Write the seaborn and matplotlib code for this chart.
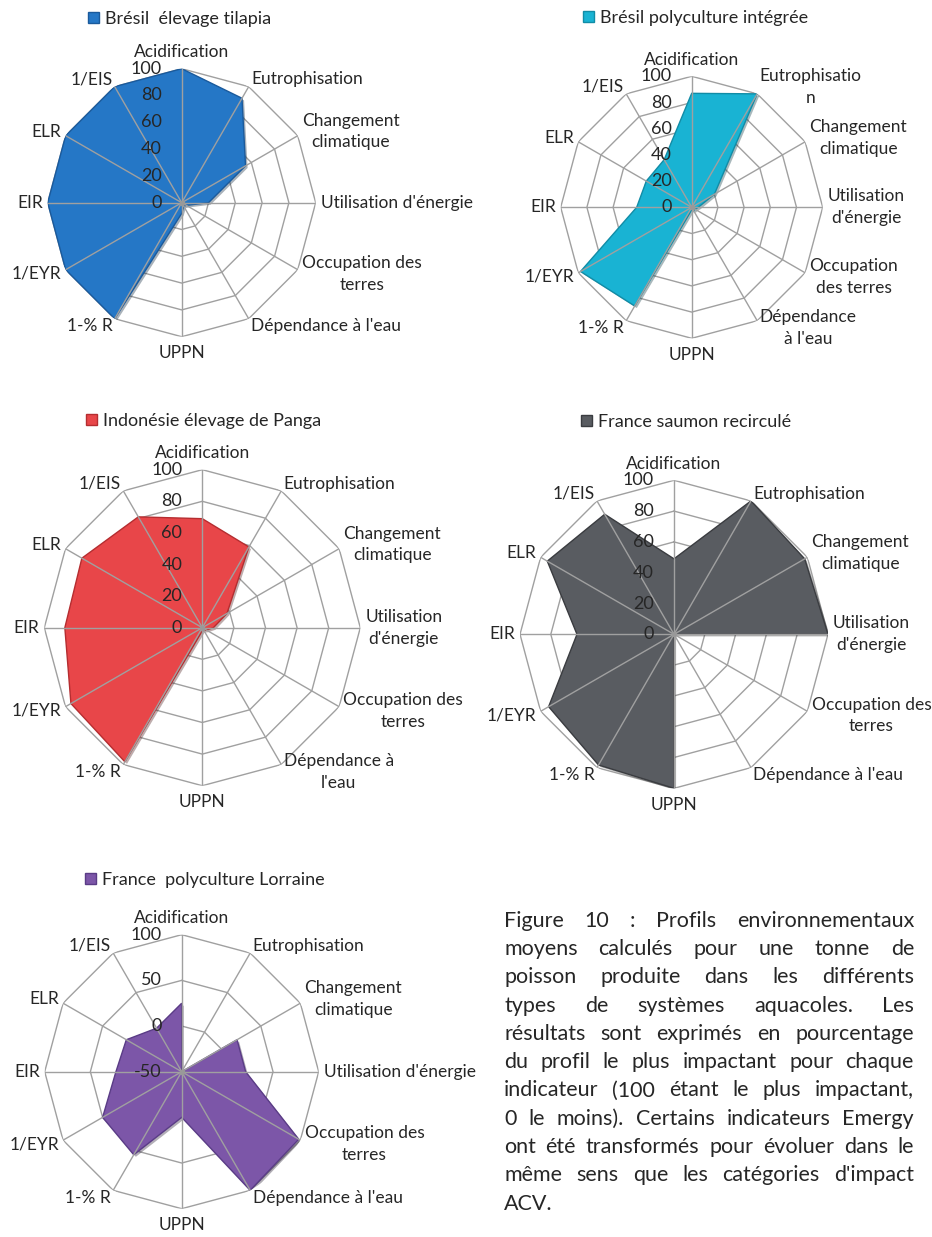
import numpy as np
import matplotlib
matplotlib.use('Agg')
import matplotlib.pyplot as plt
import matplotlib.patheffects as pe
import seaborn as sns
from matplotlib.patches import Patch
from matplotlib.transforms import offset_copy

sns.set_theme(style='white')
plt.rcParams['font.family'] = ['Lato', 'DejaVu Sans']

# ---------------------------------------------------------------
# donnees
# ---------------------------------------------------------------
indicateurs = ['Acidification', 'Eutrophisation', 'Changement climatique',
               "Utilisation d'énergie", 'Occupation des terres', "Dépendance à l'eau",
               'UPPN', '1-% R', '1/EYR', 'EIR', 'ELR', '1/EIS']

bresil_tilapia = [100, 90, 55, 20, 4, 3, 8, 100, 100, 100, 100, 100]
bresil_polyculture = [87, 100, 20, 5, 3, 3, 2, 87, 98, 42, 40, 42]
indonesie_panga = [69, 59, 18, 7, 3, 2, 2, 98, 96, 87, 88, 81]
france_saumon = [49, 100, 98, 100, 0, 0, 100, 98, 94, 63, 95, 90]
france_lorraine = [25, -50, 20, 20, 98, 100, 0, 55, 50, 22, 20, 5]

noms = ['Brésil  élevage tilapia', 'Brésil polyculture intégrée',
        'Indonésie élevage de Panga', 'France saumon recirculé',
        'France  polyculture Lorraine']

couleurs = ['#2577c6', '#19b3d3', '#e84649', '#595c61', '#7c56a8']
bords = ['#1a5a9c', '#118ca6', '#b52d30', '#3a3c40', '#5a3c86']

# libelles coupes comme dans Excel, un jeu par graphique
lib_1 = ['Acidification', 'Eutrophisation', 'Changement\nclimatique', "Utilisation d'énergie",
         'Occupation des\nterres', "Dépendance à l'eau", 'UPPN', '1-% R', '1/EYR', 'EIR', 'ELR', '1/EIS']
lib_2 = ['Acidification', 'Eutrophisatio\nn', 'Changement\nclimatique', "Utilisation\nd'énergie",
         'Occupation\ndes terres', "Dépendance\nà l'eau", 'UPPN', '1-% R', '1/EYR', 'EIR', 'ELR', '1/EIS']
lib_3 = ['Acidification', 'Eutrophisation', 'Changement\nclimatique', "Utilisation\nd'énergie",
         'Occupation des\nterres', "Dépendance à\nl'eau", 'UPPN', '1-% R', '1/EYR', 'EIR', 'ELR', '1/EIS']
lib_4 = ['Acidification', 'Eutrophisation', 'Changement\nclimatique', "Utilisation\nd'énergie",
         'Occupation des\nterres', "Dépendance à l'eau", 'UPPN', '1-% R', '1/EYR', 'EIR', 'ELR', '1/EIS']
lib_5 = ['Acidification', 'Eutrophisation', 'Changement\nclimatique', "Utilisation d'énergie",
         'Occupation des\nterres', "Dépendance à l'eau", 'UPPN', '1-% R', '1/EYR', 'EIR', 'ELR', '1/EIS']

graduations_1 = [0, 20, 40, 60, 80, 100]
graduations_2 = [-50, 0, 50, 100]

legende = ["Figure 10 : Profils environnementaux",
           "moyens calculés pour une tonne de",
           "poisson produite dans les différents",
           "types de systèmes aquacoles. Les",
           "résultats sont exprimés en pourcentage",
           "du profil le plus impactant pour chaque",
           "indicateur (100 étant le plus impactant,",
           "0 le moins). Certains indicateurs Emergy",
           "ont été transformés pour évoluer dans le",
           "même sens que les catégories d'impact",
           "ACV."]

W, H = 932, 1237
fig = plt.figure(figsize=(W / 100, H / 100), dpi=100)
fig.patch.set_facecolor('white')

TXT = '#262626'
GRILLE = '#a0a0a0'
FS = 13        # graduations et legendes
FS_LIB = 12.5  # libelles des axes

# (valeurs, libelles, graduations, centre x, centre y, rayon px, legende x, legende y)
graphes = [
    (bresil_tilapia, lib_1, graduations_1, 181.7, 202.7, 134, 88, 19),
    (bresil_polyculture, lib_2, graduations_1, 691.7, 207.3, 131, 583, 18),
    (indonesie_panga, lib_3, graduations_1, 202.3, 627.7, 158, 86, 421),
    (france_saumon, lib_4, graduations_1, 674.0, 634.3, 154, 581, 422),
    (france_lorraine, lib_5, graduations_2, 181.7, 1071.7, 137, 85, 880),
]

n = len(indicateurs)
angles = np.linspace(0, 2 * np.pi, n, endpoint=False)
angles_f = np.append(angles, angles[0])

for i, (vals, libs, grads, cx, cy, r, lx, ly) in enumerate(graphes):
    rect = [(cx - r) / W, 1 - (cy + r) / H, 2 * r / W, 2 * r / H]
    ax = fig.add_axes(rect, projection='polar')
    ax.set_theta_zero_location('N')
    ax.set_theta_direction(-1)
    rmin, rmax = grads[0], grads[-1]
    ax.set_ylim(rmin, rmax)
    ax.grid(False)
    ax.set_xticks([])
    ax.set_yticks([])
    ax.spines['polar'].set_visible(False)
    ax.set_facecolor('none')

    # anneaux polygonaux
    for g in grads[1:]:
        ax.plot(angles_f, [g] * (n + 1), color=GRILLE, lw=1.0, zorder=1)

    v = np.append(vals, vals[0])
    surf = ax.fill(angles_f, v, facecolor=couleurs[i], edgecolor=bords[i], lw=1.0, zorder=2)
    surf[0].set_path_effects([pe.SimplePatchShadow(offset=(1.5, -1.5), alpha=0.35),
                              pe.Normal()])

    # rayons par dessus la surface
    for a in angles:
        ax.plot([a, a], [rmin, rmax], color=GRILLE, lw=1.0, zorder=4)
    ax.plot([0], [rmin], 'o', color='#999999', ms=3, zorder=5)

    # graduations
    tr = offset_copy(ax.transData, fig=fig, x=-14.5, y=0, units='points')
    for g in grads:
        ax.text(0, g, str(g), transform=tr, ha='right', va='center',
                fontsize=FS, color=TXT, zorder=6)

    # libelles des axes
    for a, lab in zip(angles, libs):
        s, c = np.sin(a), np.cos(a)
        ha = 'center' if abs(s) < 0.1 else ('left' if s > 0 else 'right')
        if c > 0.95:
            va = 'bottom'
        elif c < -0.95:
            va = 'top'
        else:
            va = 'center'
        tr = offset_copy(ax.transData, fig=fig, x=3.5 * s, y=6 * c, units='points')
        ax.text(a, rmax, lab, transform=tr, ha=ha, va=va, fontsize=FS_LIB,
                color=TXT, multialignment='center', linespacing=1.45, zorder=6)

    ax.legend(handles=[Patch(facecolor=couleurs[i], edgecolor=bords[i])], labels=[noms[i]],
              loc='center left', bbox_to_anchor=(lx / W, 1 - ly / H),
              bbox_transform=fig.transFigure, frameon=False, fontsize=FS,
              handlelength=0.6, handleheight=0.6, handletextpad=0.35,
              borderpad=0, borderaxespad=0, labelcolor=TXT)

# ---------------------------------------------------------------
# legende de la figure, texte justifie
# ---------------------------------------------------------------
renderer = fig.canvas.get_renderer()
x0, x1 = 504, 914
y0, pas = 926.7, 28.3
fs_leg = 15.5


def largeur(mot, fs):
    t = fig.text(0, 0, mot, fontsize=fs)
    w = t.get_window_extent(renderer).width
    t.remove()
    return w


espace = largeur('a b', fs_leg) - largeur('ab', fs_leg)
plus_long = max(sum(largeur(m, fs_leg) for m in l.split()) + espace * (len(l.split()) - 1)
                for l in legende[:-1])
if plus_long > (x1 - x0):
    fs_leg = fs_leg * (x1 - x0) / plus_long * 0.99

for k, ligne in enumerate(legende):
    y = 1 - (y0 + k * pas) / H
    mots = ligne.split()
    if k == len(legende) - 1 or len(mots) == 1:
        fig.text(x0 / W, y, ligne, fontsize=fs_leg, color=TXT, va='baseline', ha='left')
        continue
    ws = [largeur(m, fs_leg) for m in mots]
    gap = ((x1 - x0) - sum(ws)) / (len(mots) - 1)
    x = x0
    for m, w in zip(mots, ws):
        fig.text(x / W, y, m, fontsize=fs_leg, color=TXT, va='baseline', ha='left')
        x += w + gap

fig.savefig('out.png', dpi=100)
